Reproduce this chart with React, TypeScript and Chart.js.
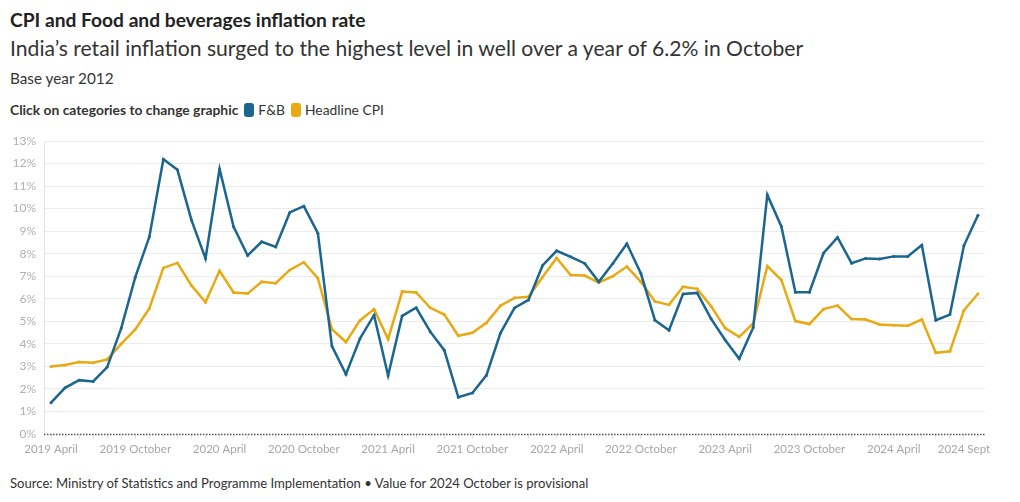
import React, { useEffect, useRef } from "react";
import { Chart, registerables } from "chart.js";

Chart.register(...registerables);

const MONTH_NAMES = ["January","February","March","April","May","June","July","August","September","October","November","December"];
const START_YEAR = 2019;
const START_MONTH = 3; // April
const MONTH_COUNT = 67;
const categories: string[] = Array.from({ length: MONTH_COUNT }, (_, i) => {
  const m = START_MONTH + i;
  return `${START_YEAR + Math.floor(m / 12)} ${MONTH_NAMES[m % 12]}`;
});

const tickIndices = [0, 6, 12, 18, 24, 30, 36, 42, 48, 54, 60, 65];
const tickLabels = ["2019 April","2019 October","2020 April","2020 October","2021 April","2021 October","2022 April","2022 October","2023 April","2023 October","2024 April","2024 Sept"];
const yTicks = [0,1,2,3,4,5,6,7,8,9,10,11,12,13];

const fnbValues = [
  1.39, 2.05, 2.39, 2.33, 2.97, 4.70, 6.96, 8.75, 12.19, 11.72, 9.49, 7.79,
  11.76, 9.19, 7.92, 8.53, 8.30, 9.83, 10.11, 8.91, 3.90, 2.65, 4.24, 5.27,
  2.59, 5.24, 5.60, 4.54, 3.72, 1.63, 1.82, 2.60, 4.48, 5.59, 5.95, 7.48,
  8.13, 7.86, 7.57, 6.75, 7.57, 8.44, 7.12, 5.05, 4.60, 6.21, 6.26, 5.11,
  4.17, 3.34, 4.73, 10.61, 9.21, 6.29, 6.29, 8.02, 8.72, 7.58, 7.79, 7.76,
  7.88, 7.88, 8.38, 5.05, 5.30, 8.36, 9.71,
];

const cpiValues = [
  3.00, 3.06, 3.19, 3.16, 3.31, 4.00, 4.64, 5.57, 7.37, 7.59, 6.59, 5.85,
  7.24, 6.28, 6.23, 6.75, 6.69, 7.28, 7.62, 6.91, 4.65, 4.08, 5.04, 5.54,
  4.21, 6.32, 6.28, 5.60, 5.30, 4.36, 4.49, 4.93, 5.69, 6.04, 6.09, 6.97,
  7.81, 7.05, 7.03, 6.72, 7.00, 7.43, 6.75, 5.88, 5.73, 6.53, 6.44, 5.67,
  4.70, 4.31, 4.91, 7.45, 6.84, 5.01, 4.88, 5.54, 5.70, 5.10, 5.08, 4.86,
  4.83, 4.80, 5.08, 3.60, 3.67, 5.49, 6.22,
];

const BLUE = "#1b6690";
const YELLOW = "#e8a912";
const FONT = "Lato, 'Noto Sans', sans-serif";

const zeroLine = {
  id: "zeroLine",
  beforeDatasetsDraw(chart: any) {
    const { ctx, chartArea, scales } = chart;
    const y = Math.round(scales.y.getPixelForValue(0)) + 0.5;
    ctx.save();
    ctx.strokeStyle = "#555";
    ctx.lineWidth = 1.5;
    ctx.setLineDash([1.5, 1.5]);
    ctx.beginPath();
    ctx.moveTo(chartArea.left, y);
    ctx.lineTo(chartArea.right, y);
    ctx.stroke();
    ctx.restore();
  },
};

export default function App() {
  const ref = useRef<HTMLCanvasElement>(null);
  useEffect(() => {
    if (!ref.current) return;
    const chart = new Chart(ref.current, {
      type: "line",
      data: {
        labels: categories,
        datasets: [
          {
            label: "F&B",
            data: fnbValues,
            borderColor: BLUE,
            backgroundColor: BLUE,
            borderWidth: 2.5,
            pointRadius: 1.5,
            pointBorderWidth: 0,
            tension: 0,
          },
          {
            label: "Headline CPI",
            data: cpiValues,
            borderColor: YELLOW,
            backgroundColor: YELLOW,
            borderWidth: 2.5,
            pointRadius: 1.5,
            pointBorderWidth: 0,
            tension: 0,
          },
        ],
      },
      options: {
        animation: false,
        responsive: false,
        maintainAspectRatio: false,
        layout: { autoPadding: false, padding: { top: 11, right: 25, left: 0, bottom: 0 } },
        plugins: { legend: { display: false }, tooltip: { enabled: false } },
        scales: {
          x: {
            type: "category",
            offset: true,
            grid: { offset: false, drawOnChartArea: false, drawTicks: true, tickLength: 5, color: "#e4e4e4" },
            border: { display: false },
            ticks: {
              autoSkip: false,
              maxRotation: 0,
              padding: 3,
              color: "#a6a6a6",
              font: { family: FONT, size: 11.5 },
              callback: (v: any, i: number) => {
                const k = tickIndices.indexOf(i);
                return k >= 0 ? tickLabels[k] : "";
              },
            },
            afterFit: (s: any) => { s.height = 30; },
          },
          y: {
            min: 0,
            max: 13,
            afterBuildTicks: (s: any) => { s.ticks = yTicks.map((v) => ({ value: v })); },
            grid: {
              drawTicks: false,
              color: (c: any) => (c.tick && c.tick.value === 0 ? "rgba(0,0,0,0)" : "#ebebeb"),
            },
            border: { display: true, color: "#e4e4e4" },
            ticks: {
              padding: 8,
              color: "#b0b0b0",
              font: { family: FONT, size: 12 },
              callback: (v: any) => `${v}%`,
            },
            afterFit: (s: any) => { s.width = 44; s.paddingTop = 0; s.paddingBottom = 0; },
          },
        },
      },
      plugins: [zeroLine],
    });
    return () => chart.destroy();
  }, []);

  const text = (top: number, size: number, weight: number, color: string, lh: number): React.CSSProperties => ({
    position: "absolute",
    left: 10,
    top,
    fontSize: size,
    fontWeight: weight,
    color,
    lineHeight: `${lh}px`,
    whiteSpace: "nowrap",
    fontFamily: FONT,
  });

  const swatch = (c: string): React.CSSProperties => ({
    display: "inline-block",
    width: 10,
    height: 14,
    borderRadius: 3,
    background: c,
    verticalAlign: "-2px",
    marginRight: 4,
  });

  return (
    <div style={{ position: "fixed", left: 0, top: 0, width: 1020, height: 502, background: "#fff", fontFamily: FONT }}>
      <div style={text(8, 19.2, 700, "#222", 24)}>CPI and Food and beverages inflation rate</div>
      <div style={text(34, 21.15, 400, "#333", 28)}>India’s retail inflation surged to the highest level in well over a year of 6.2% in October</div>
      <div style={text(68, 15.3, 400, "#333", 20)}>Base year 2012</div>
      <div style={text(101.5, 13.85, 700, "#333", 16)}>
        <span style={{ marginRight: 6 }}>Click on categories to change graphic</span>
        <span style={swatch(BLUE)} />
        <span style={{ fontWeight: 400, marginRight: 6 }}>F&amp;B</span>
        <span style={swatch(YELLOW)} />
        <span style={{ fontWeight: 400 }}>Headline CPI</span>
      </div>
      <canvas ref={ref} width={1010} height={334} style={{ position: "absolute", left: 0, top: 130, width: 1010, height: 334 }} />
      <div style={text(475, 13.1, 400, "#333", 16)}>Source: Ministry of Statistics and Programme Implementation • Value for 2024 October is provisional</div>
    </div>
  );
}
